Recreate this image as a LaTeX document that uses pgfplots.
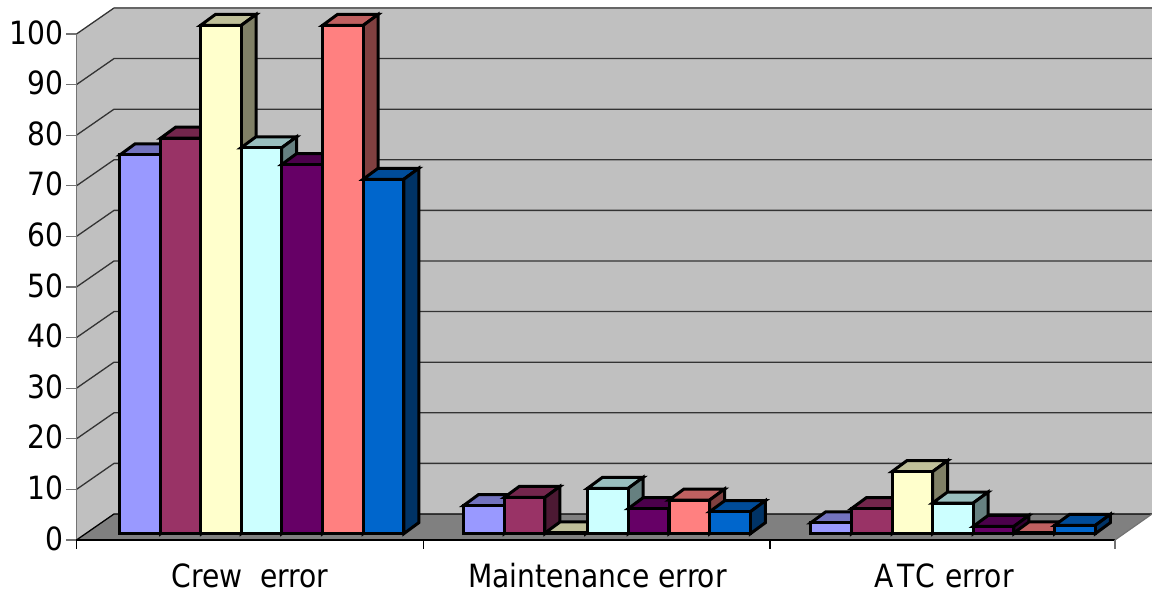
\documentclass[border=0pt]{standalone}
\usepackage{pgfplots}
\pgfplotsset{compat=1.18}
\usepackage{fontspec}
\setmainfont[FakeStretch=0.88]{DejaVu Sans}

\definecolor{c1}{HTML}{9999FF}
\definecolor{c2}{HTML}{993366}
\definecolor{c3}{HTML}{FFFFCC}
\definecolor{c4}{HTML}{CCFFFF}
\definecolor{c5}{HTML}{660066}
\definecolor{c6}{HTML}{FF8080}
\definecolor{c7}{HTML}{0066CC}
\definecolor{wall}{HTML}{C0C0C0}
\definecolor{floorc}{HTML}{808080}

% x is in reference pixels, y in chart units (5.06 px per unit)
% bar: left x, value, colour
\newcommand{\threedbar}[3]{%
  \pgfmathsetmacro{\xa}{#1}%
  \pgfmathsetmacro{\xb}{#1+40.7}%
  \pgfmathsetmacro{\xc}{#1+55.7}%
  \pgfmathsetmacro{\xd}{#1+15}%
  \pgfmathsetmacro{\ya}{1.25}%
  \pgfmathsetmacro{\yb}{1.383+#2*1.003}%
  \pgfmathsetmacro{\yc}{1.25+2.174}%
  \pgfmathsetmacro{\yd}{1.383+#2*1.003+2.174}%
  \addplot[fill=#3!75!black,draw=black,line width=3pt,miter limit=4]
    coordinates {(\xa,\yb) (\xb,\yb) (\xc,\yd) (\xd,\yd)} --cycle;
  \addplot[fill=#3!50!black,draw=black,line width=3pt,miter limit=4]
    coordinates {(\xb,\ya) (\xc,\yc) (\xc,\yd) (\xb,\yb)} --cycle;
  \addplot[fill=#3,draw=black,line width=3pt,miter limit=4]
    coordinates {(\xa,\ya) (\xb,\ya) (\xb,\yb) (\xa,\yb)} --cycle;
}
% grid line at a tick: along the left wall, then along the back wall
\newcommand{\gridat}[2]{%
  \addplot[color=black!80,line width=1.3pt] coordinates {(76.5,#1) (114,#2) (1152,#2)};
}

\begin{document}
\begin{tikzpicture}
\useasboundingbox (0,0) rectangle (1152pt,599pt);
\begin{axis}[
  at={(76.5pt,59pt)},
  anchor=south west,
  scale only axis,
  width=1075.5pt,
  height=540pt,
  xmin=76.5, xmax=1152,
  ymin=0, ymax=106.72,
  clip=false,
  axis lines=left,
  axis line style={draw=none,-},
  xtick={250,597.5,944},
  xticklabels={Crew\ \ error,Maintenance error,A\kern4pt T\kern1pt C\kern1pt\ error},
  ytick={0,10,...,100},
  major tick length=10pt,
  x tick style={draw=none},
  y tick style={color=black!55,line width=1.3pt},
  tick align=outside,
  /pgf/number format/assume math mode=true,
  tick label style={font=\fontsize{32}{38}\selectfont},
  xticklabel style={yshift=-10pt},
  yticklabel style={xshift=0pt,yshift=1.5pt},
]
% walls and floor
\addplot[fill=wall,draw=none] coordinates {(76.5,0) (114,5.138) (114,105.14) (76.5,100)} --cycle;
\addplot[fill=wall,draw=none] coordinates {(114,5.138) (1152,5.138) (1152,105.14) (114,105.14)} --cycle;
\addplot[fill=floorc,draw=none] coordinates {(76.5,0) (1115,0) (1152,5.138) (114,5.138)} --cycle;

\gridat{10}{15.138}
\gridat{20}{25.138}
\gridat{30}{35.138}
\gridat{40}{45.138}
\gridat{50}{55.138}
\gridat{60}{65.138}
\gridat{70}{75.138}
\gridat{80}{85.138}
\gridat{90}{95.138}
\addplot[color=black!80,line width=1.3pt] coordinates {(76.5,100) (114,105.14)};
\addplot[color=black!60,line width=2pt] coordinates {(114,105.14) (1152,105.14)};
\addplot[color=black,line width=1.3pt] coordinates {(76.5,0) (114,5.138) (1152,5.138)};

% frame lines
\addplot[color=black!55,line width=1.2pt] coordinates {(76.5,0) (76.5,100)};
\addplot[color=black,line width=2pt] coordinates {(76.5,0) (1115,0)};
\addplot[color=black!55,line width=1.2pt] coordinates {(1115,0) (1152,5.138)};
\addplot[color=black,line width=1.2pt] coordinates {(76.5,0) (76.5,-1.8)};
\addplot[color=black,line width=1.2pt] coordinates {(423.3,0) (423.3,-1.8)};
\addplot[color=black,line width=1.2pt] coordinates {(770,0) (770,-1.8)};
\addplot[color=black!55,line width=1.2pt] coordinates {(1115,0) (1115,-1.8)};

% Crew error
\threedbar{120}{74.5}{c1}
\threedbar{160.7}{77.8}{c2}
\threedbar{200.4}{100}{c3}
\threedbar{241}{75.9}{c4}
\threedbar{281.7}{72.6}{c5}
\threedbar{322.4}{100}{c6}
\threedbar{363.1}{69.7}{c7}
% Maintenance error
\threedbar{463.5}{5.4}{c1}
\threedbar{504.2}{7}{c2}
\threedbar{545}{0}{c3}
\threedbar{587.5}{8.8}{c4}
\threedbar{628.2}{4.8}{c5}
\threedbar{669}{6.5}{c6}
\threedbar{709.7}{4.2}{c7}
% ATC error
\threedbar{810.7}{2}{c1}
\threedbar{851.4}{4.8}{c2}
\threedbar{892}{12.1}{c3}
\threedbar{932.5}{5.9}{c4}
\threedbar{973.2}{1.3}{c5}
\threedbar{1013.9}{0}{c6}
\threedbar{1054.6}{1.5}{c7}
\end{axis}
\end{tikzpicture}
\end{document}
